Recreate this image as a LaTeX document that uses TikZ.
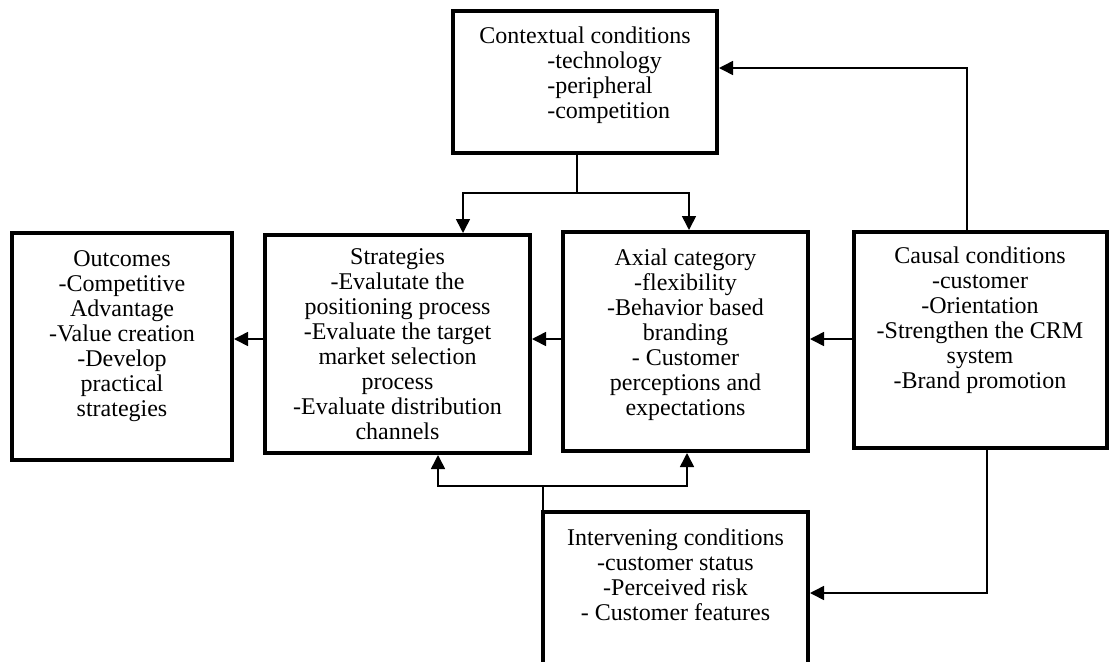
\documentclass[tikz,border=0pt]{standalone}
\usepackage{fontspec}
\setmainfont{Liberation Serif}
\usetikzlibrary{arrows.meta,positioning}

\begin{document}
\begin{tikzpicture}[
    x=0.75pt, y=-0.75pt,
    every node/.style={font=\fontsize{18pt}{18.75pt}\selectfont},
    box/.style={draw, line width=3pt, align=center, inner sep=0pt},
    wire/.style={line width=1.2pt},
    arrow/.style={-{Triangle[length=10.5pt,width=10.5pt]}, line width=1.2pt}
]
\useasboundingbox (0,0) rectangle (1110,661);
\node[box, align=left, minimum width=198pt, minimum height=106.5pt] (ctx) at (585,82) {Contextual conditions\\\hspace*{51pt}-technology\\\hspace*{51pt}-peripheral\\\hspace*{51pt}-competition\rule[-14.25pt]{0pt}{0pt}};
\node[box, minimum width=165pt, minimum height=170pt] (out) at (122,346.5) {Outcomes\\-Competitive\\Advantage\\-Value creation\\-Develop\\practical\\strategies\rule[-18.75pt]{0pt}{0pt}};
\node[box, minimum width=198.75pt, minimum height=163.5pt] (strat) at (397.5,344) {Strategies\\-Evalutate the\\positioning process\\-Evaluate the target\\market selection\\process\\-Evaluate distribution\\channels};
\node[box, minimum width=183.75pt, minimum height=164.25pt] (axial) at (685.5,341.5) {Axial category\\-flexibility\\-Behavior based\\branding\\- Customer\\perceptions and\\expectations\rule[-14.25pt]{0pt}{0pt}};
\node[box, minimum width=189.75pt, minimum height=162pt] (causal) at (980,340) {Causal conditions\\-customer\\-Orientation\\-Strengthen the CRM\\system\\-Brand promotion\rule[-33.75pt]{0pt}{0pt}};
\node[box, minimum width=198.75pt, minimum height=141pt] (interv) at (675.5,606) {Intervening conditions\\-customer status\\-Perceived risk\\- Customer features\rule[-46.5pt]{0pt}{0pt}};

\coordinate (ctxfork) at (577,193);
\coordinate (forkL) at (463,193);
\coordinate (forkR) at (689,193);
\coordinate (feedup) at (967,68);
\coordinate (midrow) at (0,339);
\coordinate (forkB) at (543,486);
\coordinate (forkBL) at (438,486);
\coordinate (forkBR) at (687,486);
\coordinate (feeddown) at (987,593);

\draw[wire] (ctxfork |- ctx.south) -- (ctxfork);
\draw[arrow] (ctxfork) -- (forkL) -- (forkL |- strat.north);
\draw[arrow] (ctxfork) -- (forkR) -- (forkR |- axial.north);
\draw[arrow] (feedup |- causal.north) -- (feedup) -- (feedup -| ctx.east);
\draw[arrow] (causal.west |- midrow) -- (axial.east |- midrow);
\draw[arrow] (axial.west |- midrow) -- (strat.east |- midrow);
\draw[arrow] (strat.west |- midrow) -- (out.east |- midrow);
\draw[wire] (forkB |- interv.north) -- (forkB);
\draw[arrow] (forkB) -- (forkBL) -- (forkBL |- strat.south);
\draw[arrow] (forkB) -- (forkBR) -- (forkBR |- axial.south);
\draw[arrow] (feeddown |- causal.south) -- (feeddown) -- (feeddown -| interv.east);
\end{tikzpicture}
\end{document}
